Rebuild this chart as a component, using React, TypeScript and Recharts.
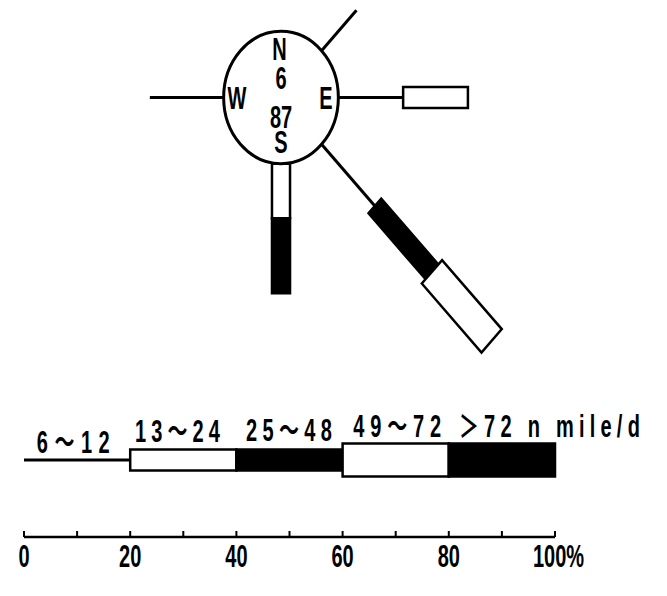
import { ScatterChart, Scatter, XAxis, YAxis } from "recharts";

// directions by compass bearing
const directions = ["N", "NE", "E", "SE", "S", "SW", "W", "NW"];
const bearings = [0, 45, 90, 135, 180, 225, 270, 315];

// speed classes (n mile/d)
const speedClasses = ["6～12", "13～24", "25～48", "49～72", "＞72"];
const speedUnit = "n mile/d";

// frequency (%) for each direction, one list per speed class
const freq6to12 = [0, 9.3, 12.2, 14.2, 0, 0, 13.9, 0];
const freq13to24 = [0, 0, 12.2, 0, 8.9, 0, 0, 0];
const freq25to48 = [0, 0, 0, 15.2, 12.2, 0, 0, 0];
const freq49to72 = [0, 0, 0, 15.9, 0, 0, 0, 0];
const freqOver72 = [0, 0, 0, 0, 0, 0, 0, 0];

const calmPct = 6;
const obsCount = 87;

const scaleTicks = [0, 10, 20, 30, 40, 50, 60, 70, 80, 90, 100];
const legendStep = 20;

// layout
const W = 651;
const H = 580;
const X_AXIS_H = 40;
const MARGIN = { top: 0, right: 104, bottom: 11, left: 16 };
const PX_PER_PCT = 531 / 100;
const Y_STRETCH = 1.155;
const PLOT_H = H - MARGIN.top - MARGIN.bottom - X_AXIS_H;
const Y_MAX = PLOT_H / (PX_PER_PCT * Y_STRETCH);
const CX = 48.4;
const CY = 71.66;
const CALM_R = 10.8;
const LEGEND_Y = 12.55;
const LABEL_DX = [2.4, 0.9, 1.8, 2.0, 1.9];
const LABEL_DY = [-7, -18, -19, -23, -23];
const LABEL_LEN = [73, 85, 86, 88, 181];

const FONT = '"Liberation Sans", Arial, "Noto Sans CJK JP", sans-serif';
const SX = 0.8;
const SY = 1.23;

const classStyle = [
  { width: 0, fill: "none" },
  { width: 3.4, fill: "#fff" },
  { width: 3.4, fill: "#000" },
  { width: 5.4, fill: "#fff" },
  { width: 5.4, fill: "#000" },
];

const classFreqs = [freq6to12, freq13to24, freq25to48, freq49to72, freqOver72];

type Pt = { x: number; y: number };
type Seg = { key: string; cls: number; pts: Pt[] };

function segPoints(ox: number, oy: number, bearing: number, r0: number, r1: number, cls: number): Pt[] {
  const rad = (bearing * Math.PI) / 180;
  const ux = Math.sin(rad);
  const uy = Math.cos(rad);
  const nx = uy;
  const ny = -ux;
  const h = classStyle[cls].width / 2;
  if (h === 0) {
    return [
      { x: ox + ux * r0, y: oy + uy * r0 },
      { x: ox + ux * r1, y: oy + uy * r1 },
    ];
  }
  return [
    { x: ox + ux * r0 + nx * h, y: oy + uy * r0 + ny * h },
    { x: ox + ux * r1 + nx * h, y: oy + uy * r1 + ny * h },
    { x: ox + ux * r1 - nx * h, y: oy + uy * r1 - ny * h },
    { x: ox + ux * r0 - nx * h, y: oy + uy * r0 - ny * h },
  ];
}

const roseSegs: Seg[] = [];
bearings.forEach((b, d) => {
  let r = CALM_R;
  classFreqs.forEach((arr, c) => {
    const f = arr[d];
    if (f > 0) {
      roseSegs.push({ key: `${directions[d]}-${c}`, cls: c, pts: segPoints(CX, CY, b, r, r + f, c) });
      r += f;
    }
  });
});

const legendSegs: Seg[] = speedClasses.map((_, c) => ({
  key: `legend-${c}`,
  cls: c,
  pts: segPoints(0, LEGEND_Y, 90, c * legendStep, (c + 1) * legendStep, c),
}));

const legendLabels = speedClasses.map((s, c) => ({
  x: c * legendStep + LABEL_DX[c],
  y: LEGEND_Y,
  i: c,
  t: c === speedClasses.length - 1 ? `${s} ${speedUnit}` : s,
}));

const roseLabels = [
  { x: CX - 0.3, y: CY + 7.9, t: "N" },
  { x: CX, y: CY + 3.18, t: String(calmPct) },
  { x: CX, y: CY - 3.18, t: String(obsCount) },
  { x: CX, y: CY - 7.26, t: "S" },
  { x: CX - 8.29, y: CY, t: "W" },
  { x: CX + 8.47, y: CY, t: "E" },
];

const circleBox = [
  { x: CX - CALM_R, y: CY - CALM_R },
  { x: CX + CALM_R, y: CY + CALM_R },
];

function StretchText({ x, y, children, anchor = "middle", len }: any) {
  return (
    <text
      transform={`translate(${x},${y}) scale(${SX},${SY})`}
      textAnchor={anchor}
      fontFamily={FONT}
      fontSize={25}
      fontWeight="bold"
      fill="#000"
      textLength={len ? len / SX : undefined}
      lengthAdjust={len ? "spacing" : undefined}
    >
      {children}
    </text>
  );
}

const NoDot = () => <g />;

function segLine(cls: number) {
  return (p: any) => {
    const pts = p.points as Pt[];
    if (classStyle[cls].width === 0) {
      return (
        <line x1={pts[0].x} y1={pts[0].y} x2={pts[1].x} y2={pts[1].y} stroke="#000" strokeWidth={3} />
      );
    }
    return (
      <polygon
        points={pts.map((q) => `${q.x},${q.y}`).join(" ")}
        fill={classStyle[cls].fill}
        stroke="#000"
        strokeWidth={2.5}
      />
    );
  };
}

const circleLine = (p: any) => {
  const [a, b] = p.points as Pt[];
  return (
    <ellipse
      cx={(a.x + b.x) / 2}
      cy={(a.y + b.y) / 2}
      rx={Math.abs(b.x - a.x) / 2}
      ry={Math.abs(b.y - a.y) / 2}
      fill="#fff"
      stroke="#000"
      strokeWidth={3}
    />
  );
};

function ScaleTick({ x, y, payload }: any) {
  const v = payload.value;
  return (
    <g>
      <line x1={x} x2={x} y1={y} y2={y - 6} stroke="#000" strokeWidth={2} />
      {v % 20 === 0 && v < 100 && <StretchText x={x} y={y + 30}>{v}</StretchText>}
      {v === 100 && (
        <StretchText x={x - 22} y={y + 30} anchor="start">
          {`${v}%`}
        </StretchText>
      )}
    </g>
  );
}

export default function App() {
  return (
    <ScatterChart width={W} height={H} margin={MARGIN}>
      <XAxis
        type="number"
        dataKey="x"
        domain={[0, 100]}
        ticks={scaleTicks}
        interval={0}
        height={X_AXIS_H}
        tickSize={0}
        tickMargin={0}
        tickLine={false}
        axisLine={{ stroke: "#000", strokeWidth: 2.5 }}
        tick={(p: any) => <ScaleTick {...p} />}
      />
      <YAxis type="number" dataKey="y" domain={[0, Y_MAX]} hide />
      {roseSegs.map((s) => (
        <Scatter key={s.key} data={s.pts} shape={NoDot} line={segLine(s.cls)} isAnimationActive={false} />
      ))}
      <Scatter data={circleBox} shape={NoDot} line={circleLine} isAnimationActive={false} />
      <Scatter
        data={roseLabels}
        isAnimationActive={false}
        shape={(p: any) => (
          <StretchText x={p.cx} y={p.cy + 11}>
            {p.payload.t}
          </StretchText>
        )}
      />
      {legendSegs.map((s) => (
        <Scatter key={s.key} data={s.pts} shape={NoDot} line={segLine(s.cls)} isAnimationActive={false} />
      ))}
      <Scatter
        data={legendLabels}
        isAnimationActive={false}
        shape={(p: any) => (
          <StretchText x={p.cx} y={p.cy + LABEL_DY[p.payload.i]} anchor="start" len={LABEL_LEN[p.payload.i]}>
            {p.payload.t}
          </StretchText>
        )}
      />
    </ScatterChart>
  );
}
